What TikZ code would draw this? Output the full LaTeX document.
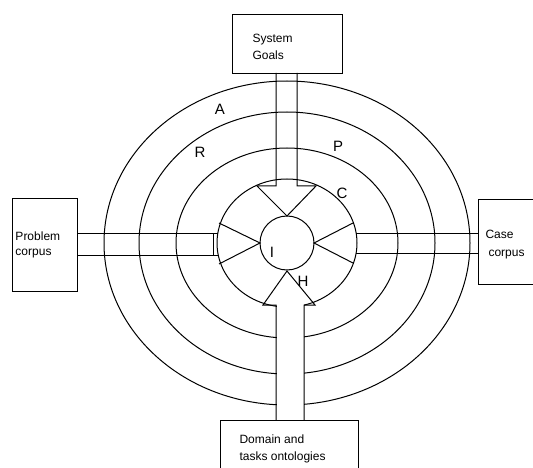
\documentclass[tikz,border=0pt]{standalone}
\usepackage{fontspec}
\setmainfont{Liberation Sans}
\begin{document}
\begin{tikzpicture}[x=1pt,y=-1pt,line width=1pt,line join=miter,
  lbl/.style={font=\fontsize{15}{15}\selectfont,inner sep=0pt,anchor=base},
  boxtxt/.style={font=\fontsize{12}{12}\selectfont,inner sep=0pt,anchor=base west},
  boxstyle/.style={draw,fill=white,inner sep=0pt,anchor=north west}]
\clip (0,0) rectangle (533,468);
\fill[white] (0,0) rectangle (533,468);
\coordinate (O) at (287,243);
% rings
\draw (O) ellipse [x radius=183pt, y radius=162pt];
\draw (O) ellipse [x radius=148pt, y radius=131pt];
\draw (O) ellipse [x radius=111pt, y radius=95pt];
\draw (O) ellipse [x radius=70pt, y radius=64pt];
\draw (O) circle [radius=27pt];
% bottom channel interrupts rings
\fill[white] (276.5,304) rectangle (303.5,421);
% boxes
\node[boxstyle,minimum width=110pt,minimum height=59pt] (goals) at (232,14) {};
\node[boxstyle,minimum width=65pt,minimum height=93pt] (prob) at (12,198) {};
\node[boxstyle,minimum width=70pt,minimum height=85pt] (case) at (478,199) {};
\node[boxstyle,minimum width=138pt,minimum height=60pt] (dom) at (220,420) {};
% top arrow
\draw (276,73) -- (276,186) -- (257,186) -- (287,216) -- (316,186) -- (297,186) -- (297,73);
% left arrow
\draw (77,233) -- (218,233);
\draw (77,255) -- (218,255);
\draw (213,233) -- (213,255);
\draw (219,223) -- (260,243) -- (219,264);
% right arrow
\draw (478,233) -- (356,233);
\draw (478,253) -- (356,253);
\draw (353,223) -- (314,243) -- (353,263);
% bottom arrow
\draw (276,420) -- (276,305) -- (263,305) -- (287,271) -- (315,305) -- (304,305) -- (304,420);
% box texts
\node[boxtxt] (t1) at (252,43) {System};
\node[boxtxt] (t2) at (252,60) {Goals};
\node[boxtxt] (t3) at (15,240) {Problem};
\node[boxtxt] (t4) at (15,255) {corpus};
\node[boxtxt] (t5) at (485,238) {Case};
\node[boxtxt] (t6) at (488,256) {corpus};
\node[boxtxt] (t7) at (239,443) {Domain and};
\node[boxtxt] (t8) at (239,460) {tasks ontologies};
% ring labels
\node[lbl] (la) at (220,115) {A};
\node[lbl] (lr) at (200,158) {R};
\node[lbl] (lp) at (338,152) {P};
\node[lbl] (lc) at (342,198) {C};
\node[lbl] (li) at (272,257) {I};
\node[lbl] (lh) at (303,286) {H};
\end{tikzpicture}
\end{document}
